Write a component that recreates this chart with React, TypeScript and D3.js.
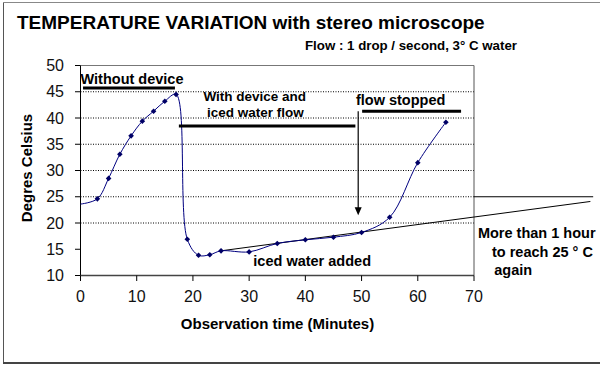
import React from "react";
import * as d3 from "d3";

const minutes = [0, 3, 5, 7, 9, 11, 13, 15, 17, 19, 21, 23, 25, 30, 35, 40, 45, 50, 55, 60, 65];
const temps = [23.6, 24.6, 28.5, 33.1, 36.6, 39.4, 41.3, 43.2, 44.5, 16.9, 13.85, 13.96, 14.7, 14.5, 16.1, 16.8, 17.3, 18.2, 21.1, 31.5, 39.2];
const yTicks = [10, 15, 20, 25, 30, 35, 40, 45, 50];
const xTicks = [0, 10, 20, 30, 40, 50, 60, 70];
const gridValues = [20, 25, 30, 35, 40, 45];
const trendX = [25, 90.7];
const trendY = [14.7, 24.1];
const refLevel = 25;
const refEndX = 91.2;

const barLabels = ["Without device", "With device and", "iced water flow", "flow stopped", "iced water added", "More than 1 hour", "to reach 25 ° C", "again"];
const barLabelX = [0, 31.0, 31.1, 49.0, 30.75, 70.7, 73.2, 73.6];
const barLabelY = [46.5, 43.3, 40.2, 42.5, 11.8, 17.1, 13.5, 10.1];
const barLabelAnchor = ["start", "middle", "middle", "start", "start", "start", "start", "start"];
const barLabelSize = [14.5, 13.5, 13.5, 14.5, 14.5, 14.5, 14.5, 14.5];

const periodStart = [0.45, 17.5, 50.1];
const periodEnd = [16.8, 48.9, 67.7];
const periodLevel = [45.7, 38.5, 41.3];

const arrowX = 49.4;
const arrowTop = 41.3;
const arrowTip = 21.5;

const FONT = "'Liberation Sans', Arial, sans-serif";

export default function App() {
  const x = d3.scaleLinear().domain([0, 70]).range([80.5, 474]);
  const y = d3.scaleLinear().domain([10, 50]).range([275.5, 65.5]);
  const pts: [number, number][] = minutes.map((m, i) => [m, temps[i]]);
  const line = d3
    .line<[number, number]>()
    .x((d) => x(d[0]))
    .y((d) => y(d[1]))
    .curve(d3.curveCatmullRom.alpha(0.5));
  const diamond = (r: number) => `M0,${-r}L${r},0L0,${r}L${-r},0Z`;
  const ax = x(arrowX);
  const tip = y(arrowTip);

  return (
    <svg
      width={600}
      height={368}
      style={{ position: "absolute", left: 0, top: 0, background: "#fff" }}
      fontFamily={FONT}
    >
      <rect x={0} y={0} width={600} height={368} fill="#fff" />
      {/* outer frame */}
      <line x1={3.5} y1={2.5} x2={600} y2={2.5} stroke="#888" strokeWidth={1} />
      <line x1={3.5} y1={2.5} x2={3.5} y2={363} stroke="#555" strokeWidth={1} />
      <line x1={3} y1={363} x2={600} y2={363} stroke="#444" strokeWidth={2} />

      {/* title */}
      <text x={17} y={29} fontSize={19} fontWeight="bold" fill="#000">
        TEMPERATURE VARIATION with stereo microscope
      </text>
      <text x={305} y={50} fontSize={13} fontWeight="bold" fill="#000" textLength={212} lengthAdjust="spacingAndGlyphs">
        Flow : 1 drop / second, 3° C water
      </text>

      {/* gridlines */}
      {gridValues.map((g) => (
        <line key={g} x1={x(0)} x2={x(70)} y1={y(g)} y2={y(g)} stroke="#000" strokeWidth={1} strokeDasharray="1,1.5" />
      ))}

      {/* plot border */}
      <line x1={x(0)} x2={x(70)} y1={y(50)} y2={y(50)} stroke="#777" strokeWidth={1} />
      <line x1={x(70)} x2={x(70)} y1={y(50)} y2={y(10)} stroke="#555" strokeWidth={1} />
      <line x1={x(0)} x2={x(0)} y1={y(50)} y2={y(10)} stroke="#000" strokeWidth={1} />
      <line x1={x(0)} x2={x(70)} y1={y(10)} y2={y(10)} stroke="#444" strokeWidth={1.6} />

      {/* y ticks */}
      {yTicks.map((t) => (
        <g key={t}>
          <line x1={x(0) - 5.5} x2={x(0)} y1={y(t)} y2={y(t)} stroke="#000" />
          <text x={64} y={y(t) + 5.5} textAnchor="end" fontSize={16} fill="#111">
            {t}
          </text>
        </g>
      ))}
      {/* x ticks */}
      {xTicks.map((t) => (
        <g key={t}>
          <line x1={x(t)} x2={x(t)} y1={y(10)} y2={y(10) + 5.5} stroke="#000" />
          <text x={x(t)} y={302} textAnchor="middle" fontSize={16} fill="#111">
            {t}
          </text>
        </g>
      ))}

      {/* axis titles */}
      <text x={277.5} y={329} textAnchor="middle" fontSize={15} fontWeight="bold" fill="#000">
        Observation time (Minutes)
      </text>
      <text
        transform={`translate(32.3,168) rotate(-90)`}
        textAnchor="middle"
        fontSize={15}
        fontWeight="bold"
        fill="#000"
      >
        Degres Celsius
      </text>

      {/* trend line and reference */}
      <line x1={x(trendX[0])} y1={y(trendY[0])} x2={x(trendX[1])} y2={y(trendY[1])} stroke="#000" strokeWidth={1} />
      <line x1={x(70)} y1={y(refLevel)} x2={x(refEndX)} y2={y(refLevel)} stroke="#000" strokeWidth={1} />

      {/* data */}
      <path d={line(pts) || ""} fill="none" stroke="#000080" strokeWidth={1} />
      {pts.map((p, i) =>
        p[0] === 0 ? null : (
          <path key={i} d={diamond(2.8)} transform={`translate(${x(p[0])},${y(p[1])})`} fill="#000066" />
        )
      )}

      {/* period bars */}
      {periodStart.map((s, i) => (
        <line key={i} x1={x(s)} x2={x(periodEnd[i])} y1={y(periodLevel[i])} y2={y(periodLevel[i])} stroke="#000" strokeWidth={3} />
      ))}

      {/* arrow */}
      <line x1={ax} x2={ax} y1={y(arrowTop)} y2={tip - 6} stroke="#000" strokeWidth={1.2} />
      <path d={`M${ax - 3.5},${tip - 8}L${ax + 3.5},${tip - 8}L${ax},${tip}Z`} fill="#000" />

      {/* annotations */}
      {barLabels.map((t, i) => (
        <text
          key={i}
          x={x(barLabelX[i])}
          y={y(barLabelY[i])}
          textAnchor={barLabelAnchor[i] as any}
          fontSize={barLabelSize[i]}
          fontWeight="bold"
          fill="#000"
        >
          {t}
        </text>
      ))}
    </svg>
  );
}
